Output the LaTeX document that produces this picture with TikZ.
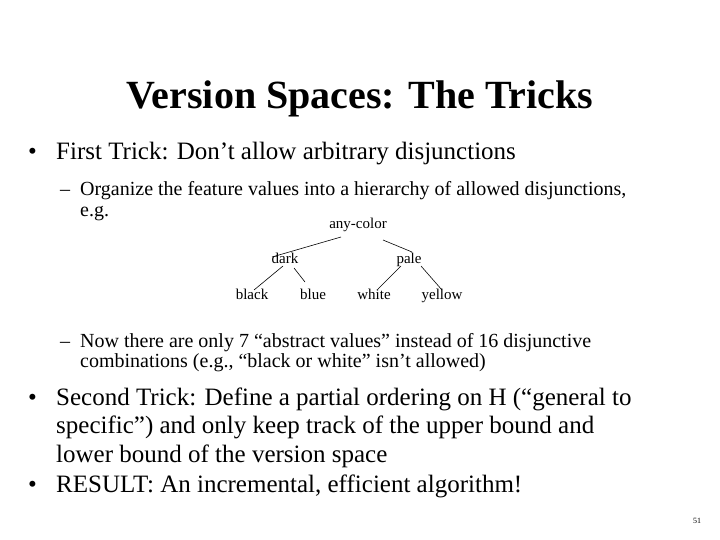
\documentclass[tikz,border=0pt]{standalone}
\usepackage{fontspec}
\setmainfont{Liberation Serif}
\begin{document}
\begin{tikzpicture}[x=1pt,y=-1pt,
 txt/.style={anchor=base west,inner sep=0pt},
 lvl1/.style={txt,font=\fontsize{25}{30}\selectfont},
 lvl2/.style={txt,font=\fontsize{20}{24}\selectfont},
 tn/.style={inner sep=0pt,anchor=base,font=\fontsize{15}{18}\selectfont},
 edge/.style={line width=0.6pt}]
\fill[white] (0,0) rectangle (720,540);
\useasboundingbox (0,0) rectangle (720,540);
\node[inner sep=0pt,anchor=base,font=\fontsize{40}{46}\bfseries\selectfont] (title) at (360,109) {Version Spaces: The Tricks};
\node[lvl1] (b1) at (28,160) {•};
\node[lvl1] (t1) at (56,160) {First Trick: Don’t allow arbitrary disjunctions};
\node[lvl2] (d1) at (60,196) {–};
\node[lvl2] (s1) at (80,196) {Organize the feature values into a hierarchy of allowed disjunctions,};
\node[lvl2] (s1b) at (80,216) {e.g.};
\node[tn] (any) at (358,229) {any-color};
\node[tn] (dark) at (285,263) {dark};
\node[tn] (pale) at (409,263) {pale};
\node[tn] (black) at (252,299) {black};
\node[tn] (blue) at (313,299) {blue};
\node[tn] (white) at (374,299) {white};
\node[tn] (yellow) at (442,299) {yellow};
\coordinate (a1) at (341,237);
\coordinate (a2) at (272,257);
\coordinate (a3) at (383,240);
\coordinate (a4) at (412,252);
\draw[edge] (a1) -- (a2);
\draw[edge] (a3) -- (a4);
\coordinate (d1a) at (283,266); \coordinate (d1b) at (254,290);
\coordinate (d2a) at (294,268); \coordinate (d2b) at (305,282);
\coordinate (p1a) at (401,266); \coordinate (p1b) at (378,289);
\coordinate (p2a) at (421,266); \coordinate (p2b) at (442,290);
\draw[edge] (d1a) -- (d1b);
\draw[edge] (d2a) -- (d2b);
\draw[edge] (p1a) -- (p1b);
\draw[edge] (p2a) -- (p2b);
\node[lvl2] (d2) at (60,347) {–};
\node[lvl2] (s2) at (80,347) {Now there are only 7 “abstract values” instead of 16 disjunctive};
\node[lvl2] (s2b) at (80,367) {combinations (e.g., “black or white” isn’t allowed)};
\node[lvl1] (b2) at (28,405) {•};
\node[lvl1] (t2) at (56,405) {Second Trick: Define a partial ordering on H (“general to};
\node[lvl1] (t2b) at (56,433) {specific”) and only keep track of the upper bound and};
\node[lvl1] (t2c) at (56,462) {lower bound of the version space};
\node[lvl1] (b3) at (28,492) {•};
\node[lvl1] (t3) at (56,492) {RESULT: An incremental, efficient algorithm!};
\node[inner sep=0pt,font=\fontsize{8}{9}\selectfont] (pg) at (697,521) {51};
\end{tikzpicture}
\end{document}
